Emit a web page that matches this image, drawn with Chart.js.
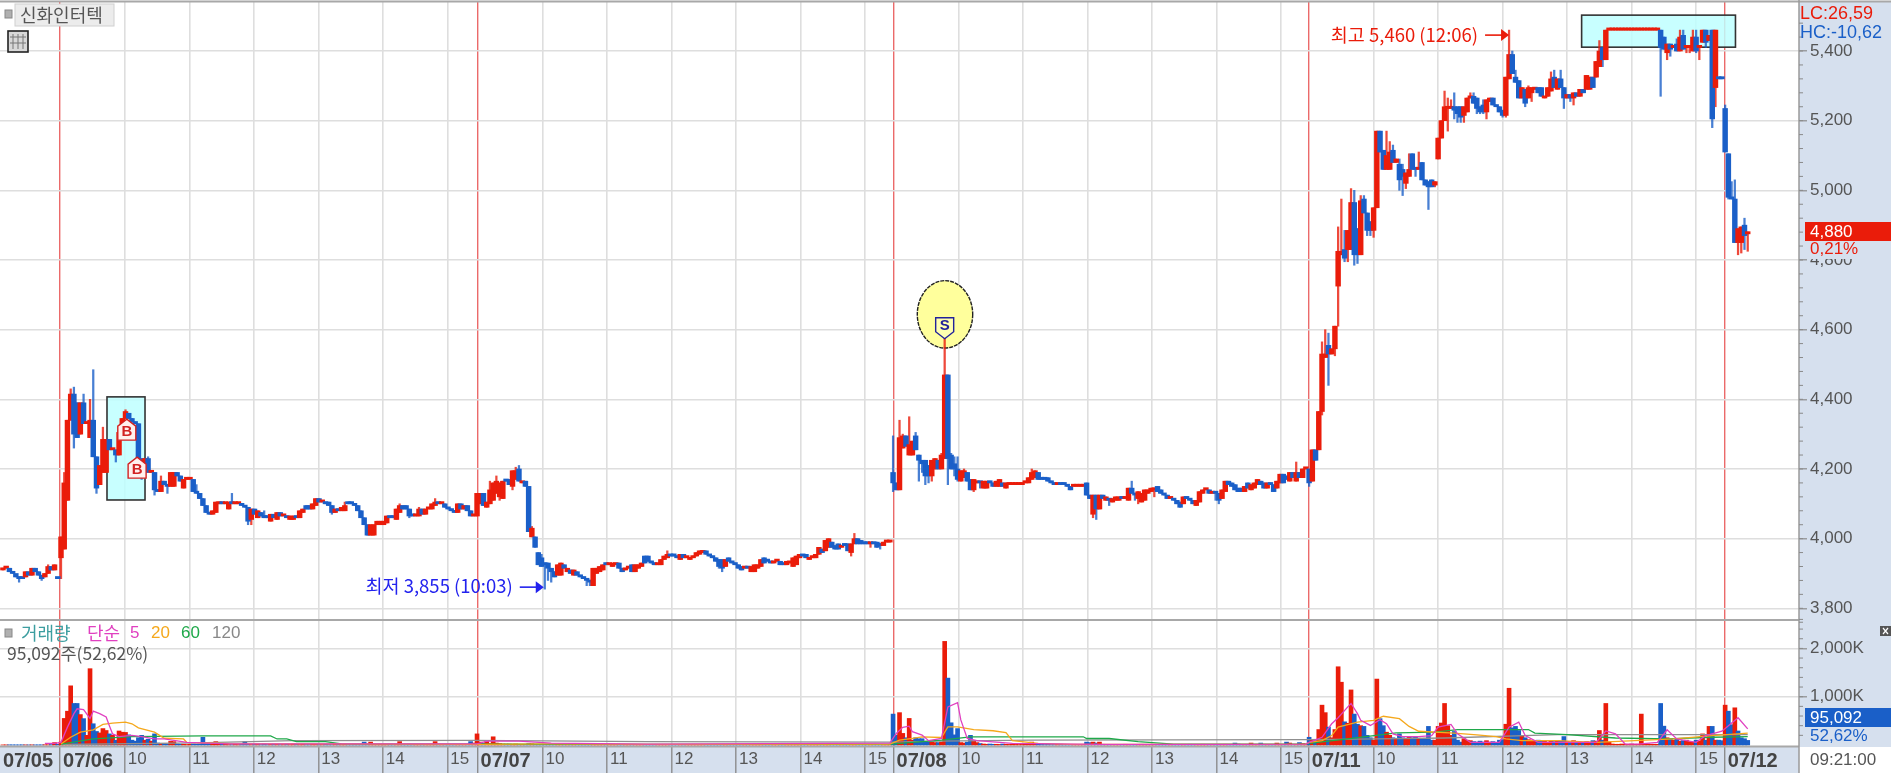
<!DOCTYPE html>
<html>
<head>
<meta charset="utf-8">
<title>신화인터텍</title>
<script src="https://cdn.jsdelivr.net/npm/chart.js@4/dist/chart.umd.min.js"></script>
<style>
html, body { margin: 0; padding: 0; background: #fff; overflow: hidden; }
canvas { display: block; }
</style>
</head>
<body>
<canvas id="chart" width="1891" height="773"></canvas>
<script>
// 3 minute bars, open,close pairs, one list per session
const openClose0705 = [3910,3915, 3915,3915, 3915,3905, 3905,3900, 3900,3890, 3890,3885, 3885,3885, 3890,3905, 3905,3895, 3895,3915, 3915,3905, 3905,3895, 3895,3885, 3890,3900, 3900,3920, 3920,3910, 3910,3925, 3885,3885];
const openClose0706 = [3945,4005, 3970,4160, 4110,4340, 4340,4415, 4415,4300, 4390,4290, 4300,4390, 4390,4330, 4330,4335, 4290,4340, 4340,4235, 4235,4145, 4155,4210, 4190,4285, 4190,4285, 4285,4255, 4255,4255, 4255,4240, 4240,4305, 4305,4345, 4345,4365, 4360,4345, 4345,4335, 4335,4330, 4330,4230, 4230,4195, 4195,4230, 4230,4190, 4190,4190, 4190,4140, 4140,4135, 4135,4165, 4165,4155, 4155,4150, 4150,4190, 4150,4190, 4190,4180, 4180,4165, 4145,4170, 4170,4170, 4170,4170, 4170,4135, 4135,4130, 4130,4115, 4115,4095, 4095,4075, 4075,4070, 4070,4080, 4075,4105, 4100,4105, 4105,4100, 4100,4100, 4085,4105, 4105,4100, 4100,4100, 4100,4100, 4100,4095, 4095,4090, 4090,4050, 4055,4085, 4085,4070, 4060,4080, 4075,4065, 4065,4060, 4065,4060, 4050,4070, 4070,4060, 4055,4075, 4075,4065, 4065,4065, 4065,4060, 4055,4065, 4055,4065, 4065,4060, 4060,4080, 4075,4085, 4095,4085, 4095,4085, 4085,4100, 4095,4115, 4115,4105, 4105,4105, 4105,4100, 4105,4095, 4095,4075, 4075,4085, 4085,4080, 4080,4090, 4080,4095, 4105,4100, 4105,4100, 4100,4095, 4095,4080, 4080,4060, 4060,4040, 4040,4010, 4010,4040, 4010,4040, 4040,4050, 4040,4050, 4040,4050, 4045,4065, 4065,4060, 4065,4060, 4055,4085, 4075,4095, 4095,4085, 4095,4085, 4085,4065, 4070,4065, 4065,4070, 4065,4085, 4085,4070, 4070,4085, 4085,4090, 4085,4100, 4095,4105, 4105,4100, 4100,4100, 4100,4090, 4090,4085, 4085,4080, 4080,4075, 4075,4100, 4100,4085, 4085,4095, 4095,4080, 4080,4065, 4065,4065];
const openClose0707 = [4065,4130, 4100,4130, 4130,4095, 4090,4105, 4100,4140, 4110,4160, 4130,4165, 4120,4160, 4115,4165, 4170,4165, 4170,4155, 4150,4195, 4170,4195, 4200,4165, 4160,4160, 4165,4150, 4150,4020, 4005,4030, 4005,3975, 3960,3925, 3945,3920, 3930,3925, 3930,3915, 3915,3905, 3905,3890, 3895,3925, 3895,3930, 3925,3915, 3905,3915, 3910,3900, 3895,3910, 3905,3895, 3895,3890, 3890,3885, 3885,3880, 3880,3875, 3865,3915, 3900,3915, 3905,3920, 3910,3925, 3930,3925, 3925,3925, 3920,3930, 3925,3930, 3930,3915, 3915,3905, 3910,3915, 3915,3920, 3925,3905, 3905,3925, 3915,3925, 3920,3930, 3950,3930, 3950,3935, 3935,3930, 3930,3925, 3925,3925, 3925,3940, 3940,3950, 3945,3955, 3955,3950, 3955,3950, 3950,3945, 3940,3955, 3955,3945, 3945,3945, 3940,3945, 3945,3950, 3950,3960, 3955,3965, 3960,3965, 3965,3955, 3955,3950, 3950,3945, 3945,3935, 3940,3920, 3940,3915, 3920,3940, 3945,3935, 3935,3930, 3930,3925, 3925,3915, 3920,3910, 3915,3915, 3920,3915, 3905,3920, 3905,3925, 3915,3925, 3920,3940, 3945,3930, 3940,3935, 3935,3930, 3930,3935, 3935,3935, 3935,3925, 3930,3925, 3925,3935, 3930,3930, 3920,3945, 3925,3950, 3945,3955, 3955,3950, 3955,3945, 3940,3945, 3945,3950, 3945,3955, 3955,3975, 3970,3960, 3965,3995, 3975,4000, 3990,3975, 3980,3970, 3985,3970, 3975,3980, 3985,3980, 3985,3965, 3960,3985, 3985,4000, 4000,3985, 3995,3985, 3990,3985, 3990,3985, 3985,3985, 3990,3985, 3990,3975, 3985,3980, 3980,3990, 3990,3990, 3990,3990];
const openClose0708 = [4190,4160, 4160,4140, 4140,4290, 4260,4295, 4295,4265, 4240,4270, 4240,4280, 4295,4255, 4240,4225, 4225,4215, 4225,4180, 4210,4180, 4180,4225, 4200,4230, 4225,4200, 4200,4240, 4230,4470, 4470,4230, 4240,4200, 4215,4200, 4200,4170, 4165,4195, 4175,4195, 4190,4165, 4170,4140, 4140,4170, 4160,4165, 4165,4160, 4145,4165, 4145,4165, 4165,4160, 4160,4150, 4150,4165, 4150,4170, 4160,4150, 4145,4160, 4155,4160, 4155,4160, 4155,4160, 4155,4160, 4155,4160, 4160,4165, 4160,4175, 4170,4190, 4175,4195, 4190,4170, 4175,4170, 4175,4170, 4175,4165, 4165,4160, 4160,4155, 4155,4160, 4160,4155, 4160,4155, 4155,4150, 4150,4140, 4150,4155, 4150,4155, 4150,4155, 4150,4155, 4160,4125, 4125,4115, 4070,4125, 4125,4085, 4085,4125, 4125,4115, 4110,4120, 4115,4110, 4105,4115, 4110,4120, 4110,4120, 4120,4115, 4115,4115, 4110,4145, 4145,4130, 4130,4125, 4115,4135, 4105,4130, 4110,4140, 4130,4140, 4135,4145, 4140,4145, 4150,4135, 4140,4130, 4130,4125, 4125,4115, 4115,4115, 4115,4110, 4110,4100, 4105,4090, 4100,4120, 4120,4115, 4115,4110, 4110,4100, 4095,4110, 4105,4135, 4130,4140, 4140,4140, 4140,4130, 4130,4135, 4135,4130, 4130,4110, 4115,4140, 4135,4165, 4165,4155, 4160,4150, 4155,4140, 4145,4135, 4145,4135, 4135,4150, 4160,4145, 4140,4155, 4145,4160, 4155,4170, 4165,4155, 4160,4145, 4145,4160, 4160,4155, 4155,4135, 4145,4165, 4160,4185, 4185,4160, 4180,4170, 4165,4190, 4190,4175, 4165,4190, 4190,4175, 4175,4200, 4200,4200];
const openClose0711 = [4200,4160, 4165,4255, 4255,4225, 4255,4365, 4365,4530, 4520,4530, 4555,4530, 4530,4545, 4545,4610, 4725,4825, 4815,4825, 4830,4805, 4830,4885, 4830,4965, 4965,4815, 4890,4815, 4815,4970, 4975,4935, 4935,4885, 4910,4885, 4885,4950, 4950,5170, 5170,5110, 5115,5060, 5060,5100, 5060,5110, 5115,5080, 5080,5090, 5075,5030, 5060,5040, 5020,5050, 5040,5060, 5105,5060, 5065,5060, 5060,5060, 5080,5030, 5030,5015, 5025,5010, 5030,5010, 5015,5025, 5090,5150, 5150,5200, 5200,5240, 5235,5240, 5235,5240, 5240,5230, 5240,5220, 5240,5210, 5215,5240, 5225,5265, 5265,5270, 5270,5250, 5265,5235, 5240,5225, 5245,5225, 5225,5260, 5255,5265, 5265,5245, 5245,5240, 5240,5225, 5230,5215, 5215,5325, 5320,5390, 5390,5335, 5325,5310, 5315,5265, 5265,5295, 5290,5250, 5265,5295, 5280,5295, 5290,5295, 5295,5280, 5295,5270, 5265,5270, 5270,5295, 5285,5320, 5325,5295, 5290,5320, 5320,5295, 5295,5265, 5265,5275, 5275,5265, 5265,5280, 5280,5270, 5270,5290, 5290,5280, 5290,5330, 5290,5325, 5325,5295, 5325,5370, 5355,5400, 5410,5375, 5375,5460, 5460,5460, 5460,5460, 5460,5460, 5460,5460, 5460,5460, 5460,5460, 5460,5460, 5460,5460, 5460,5460, 5460,5460, 5460,5460, 5460,5460, 5460,5460, 5460,5460, 5460,5460, 5460,5460, 5460,5410, 5440,5405, 5395,5420, 5420,5405, 5410,5415, 5420,5400, 5400,5440, 5445,5405, 5410,5415, 5410,5415, 5400,5440, 5440,5400, 5410,5415, 5425,5460, 5460,5425, 5430,5445, 5460,5205, 5295,5460, 5320,5320, 5320,5320];
const openClose0712 = [5235,5110, 5105,4980, 4975,4975, 4975,4850, 4850,4890, 4850,4895, 4900,4870, 4875,4880];

// wicks, only where they stick out of the body: bar within the session -> price
const highs0705 = {4: 3895, 14: 3925};
const lows0705 = {5: 3875, 12: 3880};
const highs0706 = {1: 4190, 3: 4430, 4: 4435, 7: 4415, 9: 4400, 10: 4485, 13: 4320, 20: 4370, 27: 4235, 31: 4180, 42: 4155, 53: 4130, 63: 4080, 88: 4105, 105: 4100, 111: 4090, 116: 4115};
const lows0706 = {0: 3885, 4: 4260, 11: 4130, 17: 4220, 25: 4170, 29: 4125, 33: 4130, 58: 4040, 59: 4040, 84: 4070, 108: 4060};
const highs0707 = {4: 4165, 6: 4180, 12: 4205, 13: 4210, 17: 4035, 20: 3955, 59: 3965, 117: 4015};
const lows0707 = {7: 4110, 11: 4140, 21: 3855, 22: 3880, 23: 3875, 34: 3865, 35: 3865, 75: 3915, 76: 3905, 116: 3950, 122: 3975, 125: 3970};
const highs0708 = {0: 4295, 2: 4340, 3: 4300, 5: 4350, 7: 4305, 15: 4245, 16: 4575, 18: 4245, 19: 4235, 20: 4235, 22: 4200, 43: 4200, 74: 4165, 125: 4220};
const lows0708 = {0: 4135, 8: 4165, 9: 4190, 10: 4155, 11: 4160, 12: 4165, 17: 4155, 19: 4180, 20: 4165, 25: 4135, 27: 4145, 62: 4060, 63: 4055, 67: 4095, 75: 4110, 76: 4100, 81: 4120, 100: 4110, 101: 4100};
const highs0711 = {4: 4565, 5: 4600, 6: 4590, 9: 4895, 10: 4975, 11: 4885, 13: 5005, 14: 5000, 16: 4985, 17: 4985, 24: 5170, 25: 5140, 26: 5130, 28: 5090, 29: 5075, 31: 5105, 34: 5110, 42: 5285, 43: 5265, 44: 5260, 45: 5280, 50: 5280, 51: 5280, 54: 5260, 62: 5460, 63: 5400, 64: 5345, 68: 5300, 75: 5340, 76: 5345, 78: 5345, 90: 5430, 114: 5435, 115: 5460, 116: 5460, 119: 5460, 120: 5460};
const lows0711 = {0: 4150, 4: 4355, 6: 4440, 8: 4525, 9: 4610, 11: 4795, 12: 4795, 14: 4785, 15: 4790, 18: 4870, 19: 4870, 20: 4865, 28: 5000, 29: 4985, 30: 5005, 33: 5040, 37: 4945, 39: 5010, 43: 5170, 45: 5205, 46: 5195, 47: 5195, 48: 5195, 52: 5220, 53: 5220, 54: 5220, 55: 5205, 60: 5210, 61: 5210, 67: 5240, 69: 5255, 79: 5235, 81: 5255, 82: 5245, 91: 5355, 109: 5270, 111: 5375, 112: 5385, 117: 5395, 118: 5395, 120: 5395, 121: 5375, 123: 5410, 125: 5180, 126: 5240};
const highs0712 = {0: 5245, 2: 5025, 3: 5030, 6: 4920};
const lows0712 = {1: 4975, 4: 4815, 5: 4820, 6: 4830, 7: 4825};

// volume in thousands of shares
const volume0705 = [2,2,3,2,2,2,3,2,2,3,2,2,3,5,5,8,50,15];
const volume0706 = [60,550,700,1225,860,860,630,546,200,1580,440,280,250,340,300,230,200,100,290,265,260,210,100,80,150,200,100,120,80,230,40,30,30,20,75,70,20,15,15,10,15,20,15,20,160,30,25,15,70,30,20,15,10,10,15,10,15,70,15,10,15,15,10,20,10,15,15,15,10,10,15,10,20,15,10,15,10,10,15,15,10,10,15,10,10,20,15,10,15,10,10,15,10,15,60,15,60,15,10,15,15,10,15,10,15,70,15,10,15,10,15,10,15,10,15,15,70,15,10,15,10,10,15,10,15,10,15,70,40];
const volume0707 = [230,60,40,70,30,170,40,30,20,20,20,15,20,15,12,10,30,25,15,12,10,12,10,8,8,10,8,6,5,6,5,4,5,4,5,4,3,5,4,3,4,5,4,3,4,3,5,4,3,4,5,3,4,3,5,4,3,3,4,5,3,4,3,5,4,3,4,3,3,5,4,3,4,5,3,4,3,4,5,3,3,4,5,4,3,4,3,5,4,3,4,3,5,3,4,3,5,4,3,4,3,5,4,3,4,5,3,4,3,5,4,3,4,3,5,4,3,4,3,3,5,4,3,4,5,3,4,3,10];
const volume0708 = [640,205,670,240,150,550,100,150,130,130,60,60,60,50,50,60,2145,1385,460,210,340,50,40,60,200,80,50,30,20,15,20,15,15,12,20,15,12,15,12,10,12,15,20,60,25,15,12,10,12,10,10,12,15,10,12,10,12,10,12,15,60,50,60,40,60,15,12,10,12,10,12,10,15,12,10,12,10,15,12,10,12,10,15,12,10,12,15,10,12,10,12,10,15,12,10,12,15,10,12,10,12,10,12,15,10,12,40,20,10,12,10,40,12,10,40,15,12,10,12,40,15,12,60,40,15,12,50,30,20];
const volume0711 = [160,100,90,320,825,670,370,150,320,1620,1300,480,450,1140,640,430,400,385,200,150,100,1365,545,400,265,200,150,130,230,150,120,180,150,160,140,130,140,385,100,100,385,455,860,400,200,280,100,60,130,100,90,70,60,80,60,90,60,70,50,100,110,430,1175,355,385,300,200,150,110,100,90,100,90,80,60,80,70,90,80,175,70,60,90,70,60,50,70,60,90,80,300,100,860,60,20,15,15,20,15,15,20,15,15,640,15,20,15,15,15,860,390,150,120,100,120,80,90,100,70,60,100,80,230,100,385,385,100,100,90];
const volume0712 = [825,700,420,770,290,150,130,95];

// bars whose volume colour differs from the candle
const volumeColourFlips = [534, 537, 538, 539, 541];

const sessionOpenClose = [openClose0705, openClose0706, openClose0707, openClose0708, openClose0711, openClose0712];
const sessionHighs = [highs0705, highs0706, highs0707, highs0708, highs0711, highs0712];
const sessionLows = [lows0705, lows0706, lows0707, lows0708, lows0711, lows0712];
const sessionVolumes = [volume0705, volume0706, volume0707, volume0708, volume0711, volume0712];
const sessionFirstBar = [0, 18, 147, 276, 405, 534];

// moving averages of volume, read as key points: bar number / thousands
const ma5Bars = [13,16,18,20,22,23,25,27,28,30,32,33,34,36,40,43,47,50,57,70,100,147,150,160,170,200,275,277,279,281,282,285,287,291,293,296,297,299,302,313,340,380,404,405,409,412,414,417,418,420,421,424,427,429,431,434,439,443,445,449,451,455,464,467,470,472,476,494,497,500,503,507,513,516,519,525,528,533,538,541];
const ma5Values = [35,35,56,370,650,750,735,550,700,650,580,400,230,175,200,175,125,125,55,25,25,25,80,80,40,20,40,240,365,390,275,205,90,135,790,875,520,135,90,35,15,15,20,55,160,440,565,790,860,650,510,405,525,440,230,175,175,195,370,425,230,55,55,370,475,195,55,55,290,230,20,20,55,315,125,55,195,285,565,335];
const ma20Bars = [18,21,24,28,31,34,38,40,42,47,50,56,57,70,146,147,170,200,275,278,282,285,291,293,296,301,307,311,313,321,331,404,405,409,412,414,420,425,428,433,436,439,450,457,463,466,471,482,494,506,518,530,541];
const ma20Values = [20,160,265,315,425,455,475,440,355,265,140,125,55,30,15,15,25,15,20,100,135,170,155,375,375,320,295,255,90,35,15,20,55,90,195,370,475,510,595,545,385,285,245,210,175,125,90,90,55,90,125,195,245];
const ma60Bars = [18,28,40,62,83,85,88,91,100,105,200,275,291,300,335,336,343,352,363,404,405,417,432,444,451,473,475,485,500,516,530,541];
const ma60Values = [20,125,175,190,190,125,125,70,70,25,15,20,100,170,170,135,135,70,20,25,35,125,250,265,320,320,245,215,145,125,160,175];
const ma120Bars = [18,60,90,146,200,276,290,319,404,420,447,482,541];
const ma120Values = [10,45,90,95,70,60,80,100,110,120,145,215,215];

// ticks
const priceTicks = [3800,4000,4200,4400,4600,4800,5000,5200,5400];
const volumeTicks = [1000,2000];
const xFirstTick = -0.915;
const dayTicks = [17.69,147.18,276.17,404.89,533.84];
const dayLabels = ['07/06','07/07','07/08','07/11','07/12'];
const hourOffsets = [20.1,40.1,60.1,80.1,100.1,120.1];
const hourLabels = ['10','11','12','13','14','15'];

const RED = '#ea1c0a';
const BLUE = '#1a5fc8';
const STRIP = '#d6e0ee';
const GRID = '#dedede';
const TEXT = '#555555';
const LATIN = '"Liberation Sans", sans-serif';
const HANGUL = '"Noto Sans CJK KR", sans-serif';

// flatten the sessions into dataset points
const bodies = [], wicks = [], volumes = [], barColours = [], wickColours = [], volumeColours = [];
sessionOpenClose.forEach((pairs, s) => {
  for (let k = 0; k < pairs.length / 2; k++) {
    const bar = sessionFirstBar[s] + k;
    const open = pairs[k * 2], close = pairs[k * 2 + 1];
    const up = close >= open && !(open === close && (s === 5 || open === 3885 || open === 5320));
    const high = sessionHighs[s][k] !== undefined ? sessionHighs[s][k] : Math.max(open, close);
    const low = sessionLows[s][k] !== undefined ? sessionLows[s][k] : Math.min(open, close);
    bodies.push({x: bar, y: [open, close]});
    wicks.push({x: bar, y: [low, high]});
    barColours.push(up ? RED : BLUE);
    wickColours.push(up ? 'rgba(234,28,10,0.8)' : 'rgba(26,95,200,0.8)');
    const flip = volumeColourFlips.includes(bar);
    volumes.push({x: bar, y: sessionVolumes[s][k] || 0});
    volumeColours.push((up !== flip) ? RED : BLUE);
  }
});

const keyPoints = (bars, values) => bars.map((b, i) => ({x: b, y: values[i]}));
const maLine = (label, bars, values, colour, order) => ({
  type: 'line', label, data: keyPoints(bars, values), borderColor: colour, borderWidth: 1.3,
  pointRadius: 0, tension: 0, xAxisID: 'x', yAxisID: 'vol', order
});

// x ticks: the leftover of 07/05, then each session with its hours
const xTickValues = [xFirstTick], xTickLabels = ['07/05'], xTickIsDay = [true];
dayTicks.forEach((d, i) => {
  xTickValues.push(d); xTickLabels.push(dayLabels[i]); xTickIsDay.push(true);
  if (i < dayTicks.length - 1) {
    hourOffsets.forEach((h, j) => { xTickValues.push(d + h); xTickLabels.push(hourLabels[j]); xTickIsDay.push(false); });
  }
});

const fixTicks = list => scale => { scale.ticks = list.map(v => ({value: v})); };

// boxes and tags, placed on the scales by bar number and price
const chartDecor = {
  id: 'chartDecor',
  afterLayout(chart) {
    const p = chart.scales.price, v = chart.scales.vol;
    v.left = p.left; v.right = p.right; v.width = p.width;
  },
  beforeDatasetsDraw(chart) {
    const {ctx, scales: {x, price}} = chart;
    const box = (b1, b2, p1, p2) => {
      const l = x.getPixelForValue(b1), r = x.getPixelForValue(b2);
      const t = price.getPixelForValue(p1), b = price.getPixelForValue(p2);
      ctx.fillStyle = 'rgba(190,255,255,0.85)';
      ctx.fillRect(l, t, r - l, b - t);
      ctx.strokeStyle = '#333';
      ctx.lineWidth = 1.6;
      ctx.strokeRect(l, t, r - l, b - t);
    };
    box(32.26, 44.05, 4407, 4111);
    box(489.5, 537.2, 5503, 5411);
    ctx.save();
    ctx.beginPath();
    ctx.ellipse(x.getPixelForValue(292.1), price.getPixelForValue(4644), 27.7, 33.7, 0, 0, Math.PI * 2);
    ctx.fillStyle = '#ffff9c';
    ctx.fill();
    ctx.setLineDash([4, 1]);
    ctx.strokeStyle = '#222';
    ctx.lineWidth = 1.4;
    ctx.stroke();
    ctx.restore();
  },
  afterDatasetsDraw(chart) {
    const {ctx, chartArea, scales: {x, price, vol}} = chart;
    ctx.save();
    // panel frames
    ctx.strokeStyle = '#a8a8a8';
    ctx.lineWidth = 2;
    [[0, 1.5, 1891, 1.5], [0, 620, chartArea.right, 620], [0, 746.5, chartArea.right, 746.5]].forEach(l => {
      ctx.beginPath(); ctx.moveTo(l[0], l[1]); ctx.lineTo(l[2], l[3]); ctx.stroke();
    });
    ctx.strokeStyle = '#9a9a9a';
    ctx.lineWidth = 1.5;
    ctx.beginPath(); ctx.moveTo(chartArea.right, 0); ctx.lineTo(chartArea.right, 773); ctx.stroke();
    // short ticks between the labelled ones
    const minor = (scale, from, to, step) => {
      ctx.strokeStyle = '#8a8a8a';
      ctx.lineWidth = 1;
      for (let v = from; v <= to; v += step) {
        const py = scale.getPixelForValue(v);
        ctx.beginPath(); ctx.moveTo(chartArea.right, py); ctx.lineTo(chartArea.right + 4, py); ctx.stroke();
      }
    };
    minor(price, 3760, 5480, 40);
    minor(vol, 200, 2600, 200);

    ctx.textBaseline = 'middle';
    // price arrows
    const arrow = (tipX, y, colour) => {
      ctx.strokeStyle = colour;
      ctx.fillStyle = colour;
      ctx.lineWidth = 1.6;
      ctx.beginPath(); ctx.moveTo(tipX - 24, y); ctx.lineTo(tipX - 6, y); ctx.stroke();
      ctx.beginPath(); ctx.moveTo(tipX, y); ctx.lineTo(tipX - 8, y - 6); ctx.lineTo(tipX - 8, y + 6); ctx.closePath(); ctx.fill();
    };
    const highX = x.getPixelForValue(467), highY = price.getPixelForValue(5460) + 5;
    arrow(highX, highY, RED);
    ctx.fillStyle = RED;
    ctx.textAlign = 'right';
    ctx.font = '18.5px ' + HANGUL;
    ctx.fillText('최고 5,460 (12:06)', highX - 31, highY);
    const lowX = x.getPixelForValue(168) - 1, lowY = price.getPixelForValue(3855) - 2;
    arrow(lowX, lowY, '#2222ee');
    ctx.fillStyle = '#2222ee';
    ctx.fillText('최저 3,855 (10:03)', lowX - 31, lowY - 1);

    // trade tags
    const tag = (bar, p, letter, colour, fill, down) => {
      const cx = x.getPixelForValue(bar), py = price.getPixelForValue(p), dir = down ? -1 : 1;
      ctx.beginPath();
      ctx.moveTo(cx, py);
      ctx.lineTo(cx + 9 * 1, py + dir * 7);
      ctx.lineTo(cx + 9, py + dir * 21);
      ctx.lineTo(cx - 9, py + dir * 21);
      ctx.lineTo(cx - 9, py + dir * 7);
      ctx.closePath();
      ctx.fillStyle = fill;
      ctx.fill();
      ctx.strokeStyle = colour;
      ctx.lineWidth = 1.4;
      ctx.stroke();
      ctx.fillStyle = colour;
      ctx.textAlign = 'center';
      ctx.font = 'bold 15px ' + LATIN;
      ctx.fillText(letter, cx, py + dir * 13);
    };
    tag(38.4, 4343, 'B', '#d22222', '#fff0ee', false);
    tag(41.6, 4234, 'B', '#d22222', '#fff0ee', false);
    tag(292, 4574, 'S', '#22229a', '#ffffb0', true);

    // top left name box
    ctx.textAlign = 'left';
    const square = (l, t) => {
      ctx.fillStyle = '#b0b0b0';
      ctx.fillRect(l, t, 7, 8);
      ctx.strokeStyle = '#888';
      ctx.lineWidth = 1;
      ctx.strokeRect(l, t, 7, 8);
    };
    square(5, 10);
    ctx.fillStyle = '#ececec';
    ctx.fillRect(15, 4, 99, 22);
    ctx.strokeStyle = '#d0d0d0';
    ctx.strokeRect(15, 4, 99, 22);
    ctx.fillStyle = TEXT;
    ctx.font = '18px ' + HANGUL;
    ctx.fillText('신화인터텍', 20, 15);
    ctx.fillStyle = '#d8d8d8';
    ctx.fillRect(8, 31, 20, 21);
    ctx.strokeStyle = '#222';
    ctx.lineWidth = 1.6;
    ctx.strokeRect(8, 31, 20, 21);
    ctx.strokeStyle = '#777';
    ctx.lineWidth = 1;
    [13, 18, 23].forEach(l => { ctx.beginPath(); ctx.moveTo(l, 34); ctx.lineTo(l, 49); ctx.stroke(); });
    [37, 43].forEach(l => { ctx.beginPath(); ctx.moveTo(10, l); ctx.lineTo(26, l); ctx.stroke(); });

    // volume legend
    square(5, 629);
    ctx.font = '18px ' + HANGUL;
    ctx.fillStyle = '#3d9ea0'; ctx.fillText('거래량', 21, 633);
    ctx.fillStyle = '#e040c0'; ctx.fillText('단순', 87, 633);
    ctx.font = '17px ' + LATIN;
    ctx.fillText('5', 130, 633);
    ctx.fillStyle = '#f5a81c'; ctx.fillText('20', 151, 633);
    ctx.fillStyle = '#1fa84a'; ctx.fillText('60', 181, 633);
    ctx.fillStyle = '#888888'; ctx.fillText('120', 212, 633);
    ctx.fillStyle = TEXT;
    ctx.font = '17.5px ' + HANGUL;
    ctx.fillText('95,092주(52,62%)', 7, 653);

    // right strip readouts
    ctx.font = '18px ' + LATIN;
    ctx.fillStyle = RED; ctx.fillText('LC:26,59', 1800, 14);
    ctx.fillStyle = BLUE; ctx.fillText('HC:-10,62', 1800, 33);
    ctx.fillStyle = STRIP; ctx.fillRect(1805, 241, 86, 18);
    ctx.fillStyle = RED; ctx.fillRect(1805, 222, 86, 19);
    ctx.font = '17px ' + LATIN;
    ctx.fillStyle = '#fff'; ctx.fillText('4,880', 1810, 232);
    ctx.fillStyle = RED; ctx.fillText('0,21%', 1810, 249);
    ctx.fillStyle = BLUE; ctx.fillRect(1805, 708, 86, 19);
    ctx.fillStyle = '#fff'; ctx.fillText('95,092', 1810, 718);
    ctx.fillStyle = BLUE; ctx.fillText('52,62%', 1810, 736);
    ctx.fillStyle = TEXT; ctx.fillText('09:21:00', 1810, 760);
    ctx.fillStyle = '#555'; ctx.fillRect(1880, 626, 11, 10);
    ctx.strokeStyle = '#fff';
    ctx.lineWidth = 1.2;
    ctx.beginPath(); ctx.moveTo(1883, 628); ctx.lineTo(1888, 634); ctx.moveTo(1888, 628); ctx.lineTo(1883, 634); ctx.stroke();
    ctx.restore();
  }
};

new Chart(document.getElementById('chart'), {
  type: 'bar',
  data: {
    datasets: [
      maLine('단순 5', ma5Bars, ma5Values, '#e040c0', 1),
      maLine('20', ma20Bars, ma20Values, '#f5a81c', 2),
      maLine('60', ma60Bars, ma60Values, '#1fa84a', 3),
      maLine('120', ma120Bars, ma120Values, '#8f8f8f', 4),
      {label: 'volume', data: volumes, backgroundColor: volumeColours, barThickness: 4, grouped: false, xAxisID: 'x', yAxisID: 'vol', order: 5},
      {label: 'body', data: bodies, backgroundColor: barColours, barThickness: 4.8, minBarLength: 2.2, grouped: false, xAxisID: 'x', yAxisID: 'price', order: 6},
      {label: 'wick', data: wicks, backgroundColor: wickColours, barThickness: 1.6, minBarLength: 1, grouped: false, xAxisID: 'x', yAxisID: 'price', order: 7}
    ]
  },
  options: {
    responsive: false,
    animation: false,
    layout: {padding: {top: 2, left: 0, right: 0, bottom: 0}},
    plugins: {legend: {display: false}, tooltip: {enabled: false}},
    scales: {
      x: {
        type: 'linear',
        position: 'bottom',
        bounds: 'data',
        offset: false,
        min: xFirstTick,
        max: 556.9,
        backgroundColor: STRIP,
        border: {display: false},
        grid: {
          offset: false,
          color: ctx => ctx.index === 0 ? 'rgba(0,0,0,0)' : (xTickIsDay[ctx.index] ? 'rgba(232,80,80,0.85)' : GRID),
          lineWidth: ctx => xTickIsDay[ctx.index] ? 1.4 : 1.6,
          tickColor: ctx => ctx.index === 0 ? 'rgba(0,0,0,0)' : '#8c8c8c',
          tickWidth: 1.4,
          tickLength: 26
        },
        afterBuildTicks: fixTicks(xTickValues),
        afterFit: s => { s.height = 26; s.paddingLeft = 0; s.paddingRight = 0; },
        ticks: {
          autoSkip: false,
          maxRotation: 0,
          minRotation: 0,
          align: 'start',
          labelOffset: 3,
          padding: -24,
          color: ctx => xTickIsDay[ctx.index] ? '#444' : TEXT,
          font: ctx => xTickIsDay[ctx.index] ? {family: LATIN, size: 20, weight: 'bold'} : {family: LATIN, size: 17},
          callback: (v, i) => xTickLabels[i]
        }
      },
      price: {
        type: 'linear',
        position: 'right',
        bounds: 'data',
        min: 3401.8,
        max: 5540.7,
        backgroundColor: STRIP,
        border: {display: false},
        grid: {color: GRID, lineWidth: 1.6, tickColor: '#8c8c8c', tickWidth: 1.2, tickLength: 8},
        afterBuildTicks: fixTicks(priceTicks),
        afterFit: s => { s.width = 92; s.paddingTop = 0; s.paddingBottom = 0; },
        ticks: {
          padding: 3,
          crossAlign: 'near',
          color: TEXT,
          font: {family: LATIN, size: 17},
          callback: v => v.toLocaleString('en-US')
        }
      },
      vol: {
        type: 'linear',
        position: 'right',
        bounds: 'data',
        min: -41.4,
        max: 15383,
        border: {display: false},
        grid: {color: GRID, lineWidth: 1.6, tickColor: '#8c8c8c', tickWidth: 1.2, tickLength: 8},
        afterBuildTicks: fixTicks(volumeTicks),
        afterFit: s => { s.width = 0; s.paddingTop = 0; s.paddingBottom = 0; },
        ticks: {
          padding: 3,
          crossAlign: 'near',
          color: TEXT,
          font: {family: LATIN, size: 17},
          callback: v => v.toLocaleString('en-US') + 'K'
        }
      }
    }
  },
  plugins: [chartDecor]
});
</script>
</body>
</html>
